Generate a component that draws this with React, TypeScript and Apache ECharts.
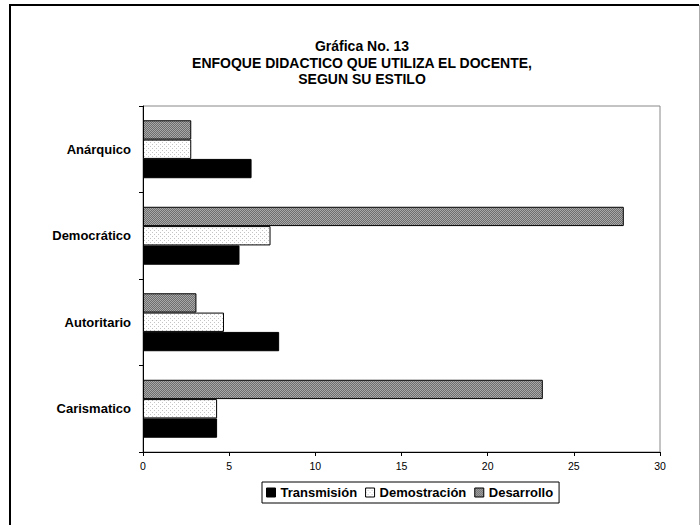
import React, { useEffect, useRef } from "react";
import * as echarts from "echarts";

const titleLines = ["Gráfica No. 13", "ENFOQUE DIDACTICO QUE UTILIZA EL DOCENTE,", "SEGUN SU ESTILO"];
const categories = ["Carismatico", "Autoritario", "Democrático", "Anárquico"];
const transmision = [4.3, 7.9, 5.6, 6.3];
const demostracion = [4.3, 4.7, 7.4, 2.8];
const desarrollo = [23.2, 3.1, 27.9, 2.8];
const seriesNames = ["Transmisión", "Demostración", "Desarrollo"];

function makePattern(bg: string, fg: string, size: number, dots: [number, number][]) {
  const c = document.createElement("canvas");
  c.width = size;
  c.height = size;
  const ctx = c.getContext("2d")!;
  ctx.fillStyle = bg;
  ctx.fillRect(0, 0, size, size);
  ctx.fillStyle = fg;
  dots.forEach(([x, y]) => ctx.fillRect(x, y, 1, 1));
  return c;
}

export default function App() {
  const ref = useRef<HTMLDivElement>(null);
  useEffect(() => {
    const chart = echarts.init(ref.current!, null, { renderer: "svg" });
    const grayPat = makePattern("#6e6e6e", "#a8a8a8", 2, [[0, 0], [1, 1]]);
    const lightPat = makePattern("#ffffff", "#c4c4c4", 4, [[0, 0], [2, 2]]);
    const font = "Liberation Sans, Arial, sans-serif";
    const barCommon = { type: "bar", barGap: "0%", barCategoryGap: "33%" };
    chart.setOption({
      animation: false,
      backgroundColor: "#ffffff",
      title: {
        text: titleLines.join("\n"),
        left: 357,
        textAlign: "center",
        top: 33,
        textStyle: { fontFamily: font, fontSize: 14, fontWeight: "bold", color: "#000", lineHeight: 16.5 },
      },
      legend: {
        bottom: 22,
        left: 262,
        orient: "horizontal",
        icon: "rect",
        itemWidth: 9,
        itemHeight: 9,
        itemGap: 8,
        padding: [4, 6, 4, 4],
        borderColor: "#000",
        borderWidth: 1,
        data: [
          { name: seriesNames[0], itemStyle: { color: "#000", borderColor: "#000", borderWidth: 1 } },
          { name: seriesNames[1], itemStyle: { color: { image: lightPat, repeat: "repeat" }, borderColor: "#000", borderWidth: 1 } },
          { name: seriesNames[2], itemStyle: { color: { image: grayPat, repeat: "repeat" }, borderColor: "#000", borderWidth: 1 } },
        ],
        textStyle: { fontFamily: font, fontSize: 13, fontWeight: "bold", color: "#000" },
      },
      grid: { left: 143, right: 40, top: 106, bottom: 73, show: true, borderColor: "#888", borderWidth: 1 },
      xAxis: {
        type: "value",
        min: 0,
        max: 30,
        interval: 5,
        axisLine: { show: true, lineStyle: { color: "#000", width: 1 } },
        axisTick: { show: true, length: 4, lineStyle: { color: "#000" } },
        splitLine: { show: false },
        axisLabel: { fontFamily: font, fontSize: 10.5, color: "#000", margin: 8 },
      },
      yAxis: {
        type: "category",
        data: categories,
        axisLine: { show: true, lineStyle: { color: "#000", width: 1 } },
        axisTick: { show: true, length: 4, lineStyle: { color: "#000" } },
        axisLabel: { fontFamily: font, fontSize: 13, fontWeight: "bold", color: "#000", margin: 12 },
      },
      series: [
        {
          ...barCommon,
          name: seriesNames[2],
          data: desarrollo,
          itemStyle: { color: { image: grayPat, repeat: "repeat" }, borderColor: "#000", borderWidth: 1 },
        },
        {
          ...barCommon,
          name: seriesNames[1],
          data: demostracion,
          itemStyle: { color: { image: lightPat, repeat: "repeat" }, borderColor: "#000", borderWidth: 1 },
        },
        {
          ...barCommon,
          name: seriesNames[0],
          data: transmision,
          itemStyle: { color: "#000", borderColor: "#000", borderWidth: 1 },
        },
      ],
      graphic: [
        { type: "line", shape: { x1: 10, y1: 5, x2: 10, y2: 530 }, style: { stroke: "#000", lineWidth: 2 } },
        { type: "line", shape: { x1: 9, y1: 5, x2: 699, y2: 5 }, style: { stroke: "#000", lineWidth: 2 } },
        { type: "line", shape: { x1: 699.5, y1: 5, x2: 699.5, y2: 530 }, style: { stroke: "#aaa", lineWidth: 1 } },
      ],
    });
    return () => chart.dispose();
  }, []);
  return (
    <div
      ref={ref}
      style={{ position: "fixed", left: 0, top: 0, width: 700, height: 525, background: "#fff" }}
    />
  );
}
